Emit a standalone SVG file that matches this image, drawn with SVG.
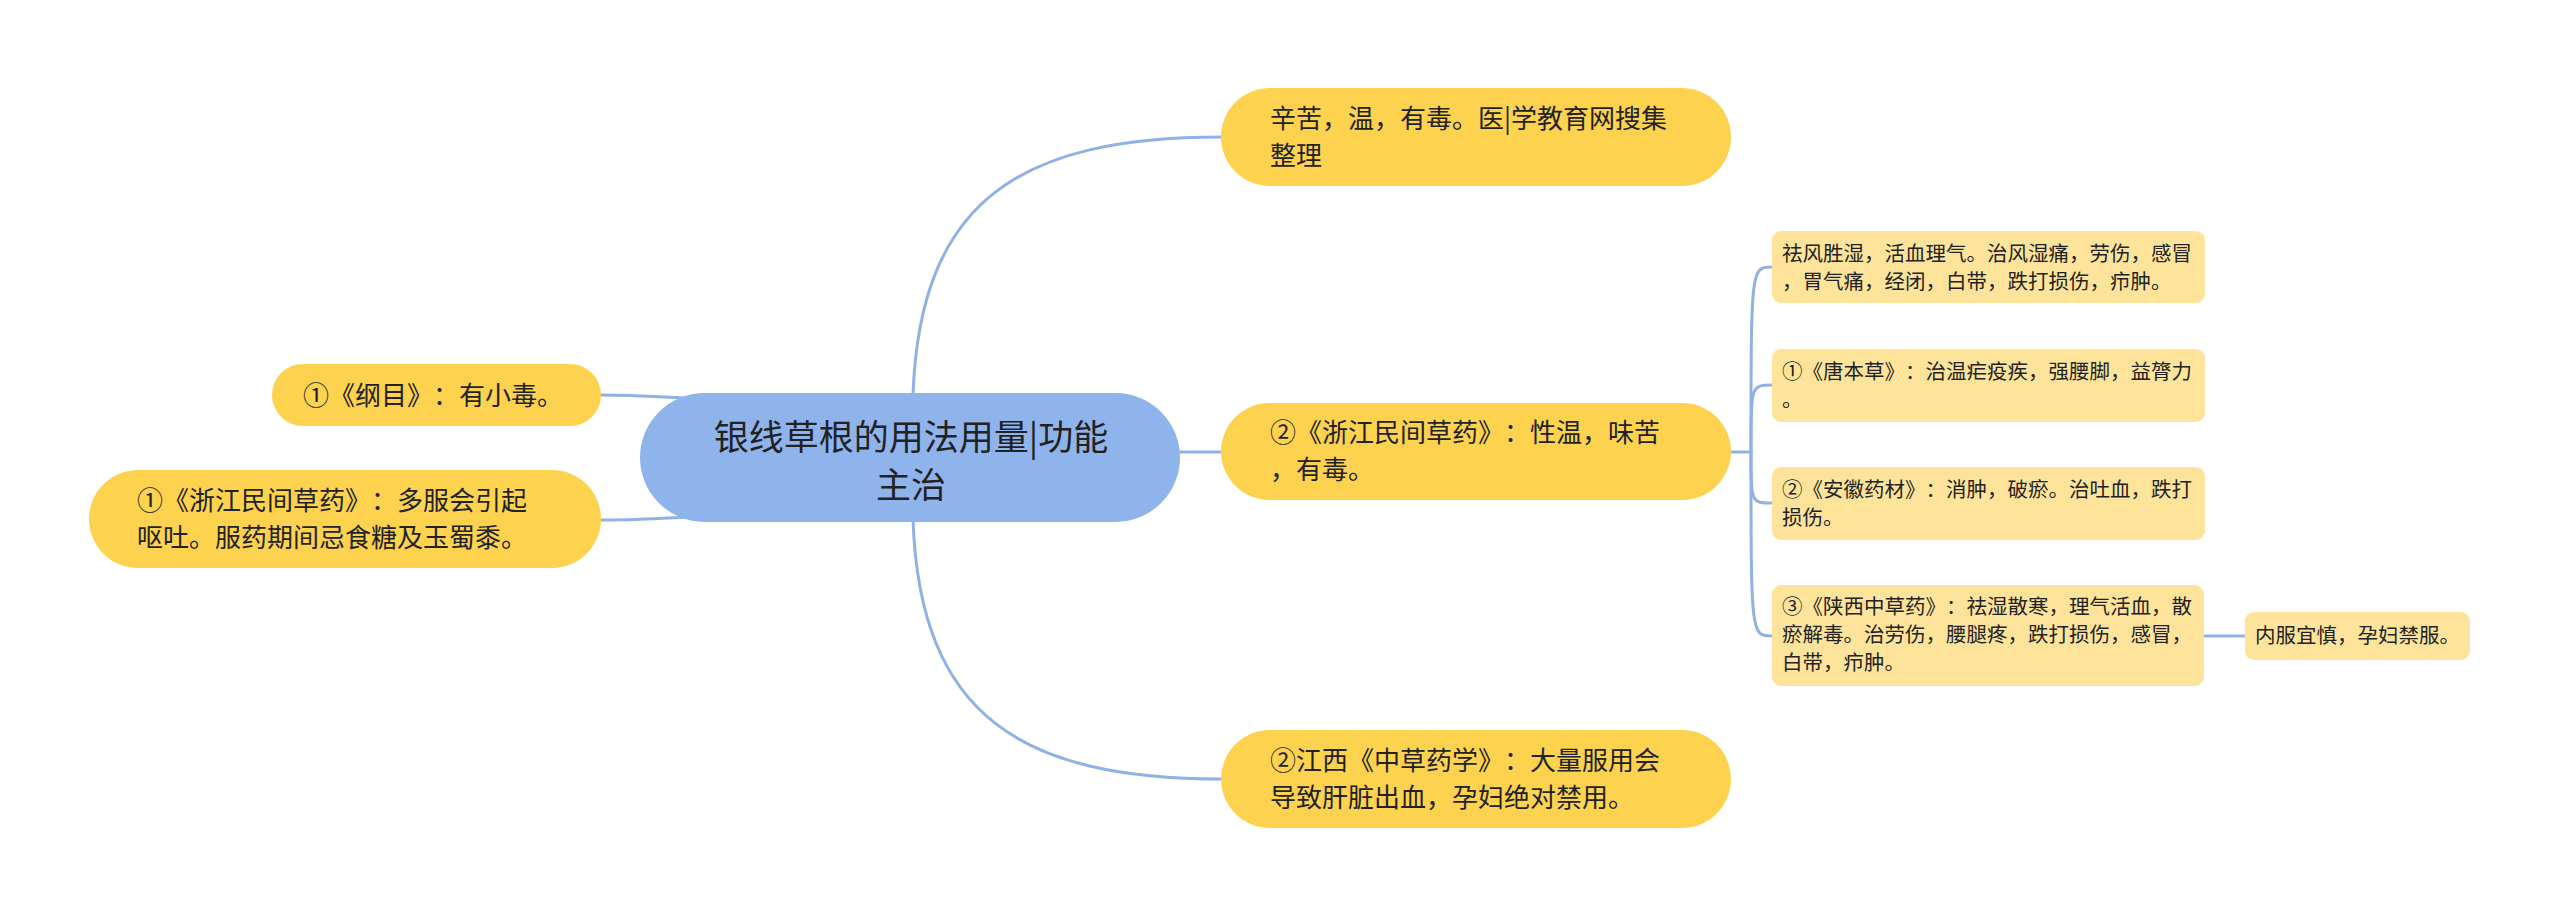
<svg xmlns="http://www.w3.org/2000/svg" width="2560" height="917" viewBox="0 0 2560 917">
<style>
.bg{fill:#ffffff}
.edge{fill:none;stroke:#8fb1e5;stroke-width:3;stroke-linecap:round}
.root{fill:#8fb4ec}
.l1{fill:#fdd24f}
.l2{fill:#fee49a}
text{font-family:"Noto Sans CJK SC","Noto Sans",sans-serif;fill:#222222;text-spacing-trim:space-all}
.t0{font-size:35px}
.t1{font-size:26px}
.t2{font-size:20.5px}
</style>
<rect class="bg" x="0" y="0" width="2560" height="917"/>
<g id="connectors">
<path class="edge" d="M 913 395 C 920 200 1020 137 1222 137"/>
<path class="edge" d="M 1180 452 L 1222 452"/>
<path class="edge" d="M 913 520 C 920 715 1020 779 1222 779"/>
<path class="edge" d="M 600 395 C 650 395 680 399 740 400"/>
<path class="edge" d="M 600 520 C 650 520 680 516 740 516"/>
<path class="edge" d="M 1731 452 L 1751 452"/>
<path class="edge" d="M 1751 452 C 1751 267 1751 267 1772 267"/>
<path class="edge" d="M 1751 452 C 1751 385 1751 385 1772 385"/>
<path class="edge" d="M 1751 452 C 1751 503 1751 503 1772 503"/>
<path class="edge" d="M 1751 452 C 1751 636 1751 636 1772 636"/>
<path class="edge" d="M 2204 636 L 2245 636"/>
</g>
<g id="root">
<rect class="root" x="640" y="393" width="540" height="129" rx="64.5"/>
<text class="t0" x="911" y="450" text-anchor="middle">银线草根的用法用量|功能</text>
<text class="t0" x="911" y="498" text-anchor="middle">主治</text>
</g>
<g id="n-top">
<rect class="l1" x="1221" y="88" width="510" height="98" rx="49"/>
<text class="t1" x="1270" y="128">辛苦，温，有毒。医|学教育网搜集</text>
<text class="t1" x="1270" y="165">整理</text>
</g>
<g id="n-mid">
<rect class="l1" x="1221" y="403" width="510" height="97" rx="48.5"/>
<text class="t1" x="1270" y="442">②《浙江民间草药》：性温，味苦</text>
<text class="t1" x="1270" y="479">，有毒。</text>
</g>
<g id="n-bottom">
<rect class="l1" x="1221" y="730" width="510" height="98" rx="49"/>
<text class="t1" x="1270" y="770">②江西《中草药学》：大量服用会</text>
<text class="t1" x="1270" y="807">导致肝脏出血，孕妇绝对禁用。</text>
</g>
<g id="n-left1">
<rect class="l1" x="272" y="364" width="329" height="62" rx="31"/>
<text class="t1" x="303" y="405">①《纲目》：有小毒。</text>
</g>
<g id="n-left2">
<rect class="l1" x="89" y="470" width="512" height="98" rx="49"/>
<text class="t1" x="137" y="510">①《浙江民间草药》：多服会引起</text>
<text class="t1" x="137" y="547">呕吐。服药期间忌食糖及玉蜀黍。</text>
</g>
<g id="n-sub1">
<rect class="l2" x="1772" y="231" width="433" height="72" rx="9"/>
<text class="t2" x="1782" y="261">祛风胜湿，活血理气。治风湿痛，劳伤，感冒</text>
<text class="t2" x="1782" y="289">，胃气痛，经闭，白带，跌打损伤，疖肿。</text>
</g>
<g id="n-sub2">
<rect class="l2" x="1772" y="349" width="433" height="73" rx="9"/>
<text class="t2" x="1782" y="379">①《唐本草》：治温疟疫疾，强腰脚，益膂力</text>
<text class="t2" x="1782" y="407">。</text>
</g>
<g id="n-sub3">
<rect class="l2" x="1772" y="467" width="433" height="73" rx="9"/>
<text class="t2" x="1782" y="497">②《安徽药材》：消肿，破瘀。治吐血，跌打</text>
<text class="t2" x="1782" y="525">损伤。</text>
</g>
<g id="n-sub4">
<rect class="l2" x="1772" y="585" width="432" height="101" rx="9"/>
<text class="t2" x="1782" y="614">③《陕西中草药》：祛湿散寒，理气活血，散</text>
<text class="t2" x="1782" y="642">瘀解毒。治劳伤，腰腿疼，跌打损伤，感冒，</text>
<text class="t2" x="1782" y="670">白带，疖肿。</text>
</g>
<g id="n-sub5">
<rect class="l2" x="2245" y="612" width="225" height="48" rx="9"/>
<text class="t2" x="2255" y="643">内服宜慎，孕妇禁服。</text>
</g>
</svg>
